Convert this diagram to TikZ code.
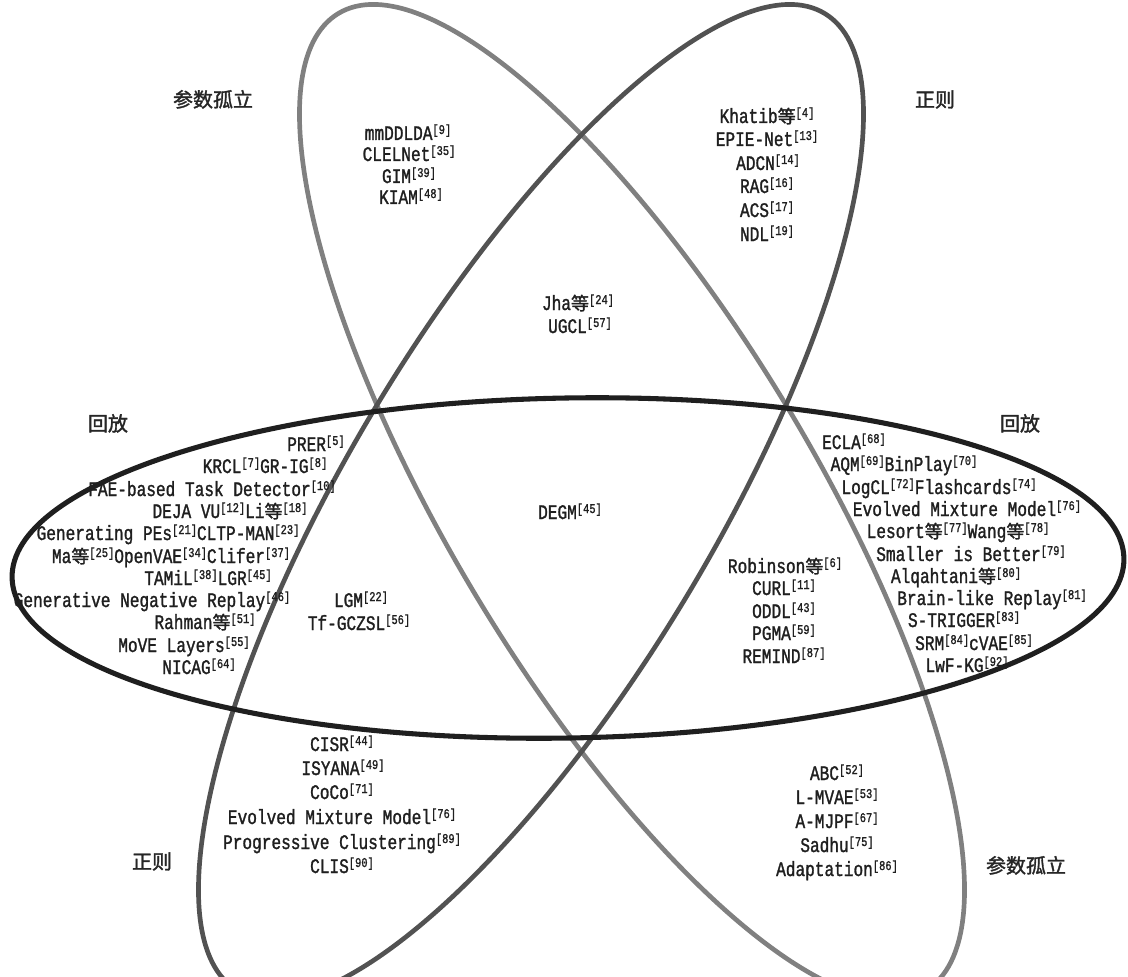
\documentclass[tikz,border=0pt]{standalone}
\usepackage{fontspec}
\newfontfamily\mono[FakeStretch=0.78,FakeBold=1.3]{Liberation Mono}
\newfontfamily\cjkf[FakeBold=1.6]{Noto Sans CJK SC}
\newcommand\rf[1]{\raisebox{4.5pt}{\fontsize{10}{10}\selectfont[#1]}}
\newcommand\dg{{\cjkf\fontsize{13.5}{13.5}\selectfont 等}}
\tikzset{
  txt/.style={font=\mono\fontsize{15.5}{18}\selectfont, inner sep=0pt, anchor=base, text=black!88},
  cat/.style={font=\cjkf\fontsize{15}{15}\selectfont, inner sep=0pt, anchor=base, text=black!85},
  ringH/.style={draw=black!88, line width=3.8pt},
  ringA/.style={draw=black!50, line width=3.5pt},
  ringB/.style={draw=black!68, line width=3.5pt},
}
\begin{document}
\begin{tikzpicture}[x=0.75pt, y=-0.75pt]
\useasboundingbox (0,0) rectangle (1128,977);
\fill[white] (0,0) rectangle (1128,977);
\begin{scope}
\clip (0,0) rectangle (1128,977);
\coordinate (cA) at (632,502);
\coordinate (cB) at (531,502);
\coordinate (cH) at (568,568);
\draw[ringA, rotate around={-59:(cA)}] (cA) ellipse [x radius=570, y radius=182];
\draw[ringB, rotate around={59:(cB)}] (cB) ellipse [x radius=570, y radius=182];
\draw[ringH, rotate around={1:(cH)}] (cH) ellipse [x radius=556, y radius=170];
\end{scope}
% categories
\node[cat] (k1) at (213,107) {参数孤立};
\node[cat] (k2) at (935,107) {正则};
\node[cat] (k3) at (108,431) {回放};
\node[cat] (k4) at (1020,431) {回放};
\node[cat] (k5) at (152,869) {正则};
\node[cat] (k6) at (1026,873) {参数孤立};
% left column
\node[txt] (l1) at (316,451) {PRER\rf{5}};
\node[txt] (l2) at (265,473) {KRCL\rf{7}GR-IG\rf{8}};
\node[txt] (l3) at (212,496) {FAE-based Task Detector\rf{10}};
\node[txt] (l4) at (230,518) {DEJA VU\rf{12}Li\dg\rf{18}};
\node[txt] (l5) at (168,540) {Generating PEs\rf{21}CLTP-MAN\rf{23}};
\node[txt] (l6) at (171,563) {Ma\dg\rf{25}OpenVAE\rf{34}Clifer\rf{37}};
\node[txt] (l7) at (208,585) {TAMiL\rf{38}LGR\rf{45}};
\node[txt] (l8) at (152,607) {Generative Negative Replay\rf{46}};
\node[txt] (l9) at (205,629) {Rahman\dg\rf{51}};
\node[txt] (l10) at (184,652) {MoVE Layers\rf{55}};
\node[txt] (l11) at (199,674) {NICAG\rf{64}};
% right column
\node[txt] (r1) at (854,449) {ECLA\rf{68}};
\node[txt] (r2) at (904,471) {AQM\rf{69}BinPlay\rf{70}};
\node[txt] (r3) at (939,494) {LogCL\rf{72}Flashcards\rf{74}};
\node[txt] (r4) at (967,516) {Evolved Mixture Model\rf{76}};
\node[txt] (r5) at (958,538) {Lesort\dg\rf{77}Wang\dg\rf{78}};
\node[txt] (r6) at (971,561) {Smaller is Better\rf{79}};
\node[txt] (r7) at (956,583) {Alqahtani\dg\rf{80}};
\node[txt] (r8) at (992,605) {Brain-like Replay\rf{81}};
\node[txt] (r9) at (964,627) {S-TRIGGER\rf{83}};
\node[txt] (r10) at (974,650) {SRM\rf{84}cVAE\rf{85}};
\node[txt] (r11) at (967,672) {LwF-KG\rf{92}};
% inner right
\node[txt] (i1) at (785,573) {Robinson\dg\rf{6}};
\node[txt] (i2) at (784,595) {CURL\rf{11}};
\node[txt] (i3) at (784,618) {ODDL\rf{43}};
\node[txt] (i4) at (784,640) {PGMA\rf{59}};
\node[txt] (i5) at (784,663) {REMIND\rf{87}};
% inner left
\node[txt] (j1) at (361,607) {LGM\rf{22}};
\node[txt] (j2) at (359,630) {Tf-GCZSL\rf{56}};
% center
\node[txt] (c1) at (570,519) {DEGM\rf{45}};
\node[txt] (c2) at (578,310) {Jha\dg\rf{24}};
\node[txt] (c3) at (580,333) {UGCL\rf{57}};
% top left
\node[txt] (t1) at (408,140) {mmDDLDA\rf{9}};
\node[txt] (t2) at (409,161) {CLELNet\rf{35}};
\node[txt] (t3) at (409,183) {GIM\rf{39}};
\node[txt] (t4) at (411,204) {KIAM\rf{48}};
% top right
\node[txt] (u1) at (767,123) {Khatib\dg\rf{4}};
\node[txt] (u2) at (767,146) {EPIE-Net\rf{13}};
\node[txt] (u3) at (768,170) {ADCN\rf{14}};
\node[txt] (u4) at (767,193) {RAG\rf{16}};
\node[txt] (u5) at (767,217) {ACS\rf{17}};
\node[txt] (u6) at (767,241) {NDL\rf{19}};
% bottom left
\node[txt] (b1) at (342,751) {CISR\rf{44}};
\node[txt] (b2) at (343,775) {ISYANA\rf{49}};
\node[txt] (b3) at (342,799) {CoCo\rf{71}};
\node[txt] (b4) at (342,824) {Evolved Mixture Model\rf{76}};
\node[txt] (b5) at (342,849) {Progressive Clustering\rf{89}};
\node[txt] (b6) at (342,873) {CLIS\rf{90}};
% bottom right
\node[txt] (d1) at (837,780) {ABC\rf{52}};
\node[txt] (d2) at (837,804) {L-MVAE\rf{53}};
\node[txt] (d3) at (837,828) {A-MJPF\rf{67}};
\node[txt] (d4) at (837,852) {Sadhu\rf{75}};
\node[txt] (d5) at (837,876) {Adaptation\rf{86}};
\end{tikzpicture}
\end{document}
